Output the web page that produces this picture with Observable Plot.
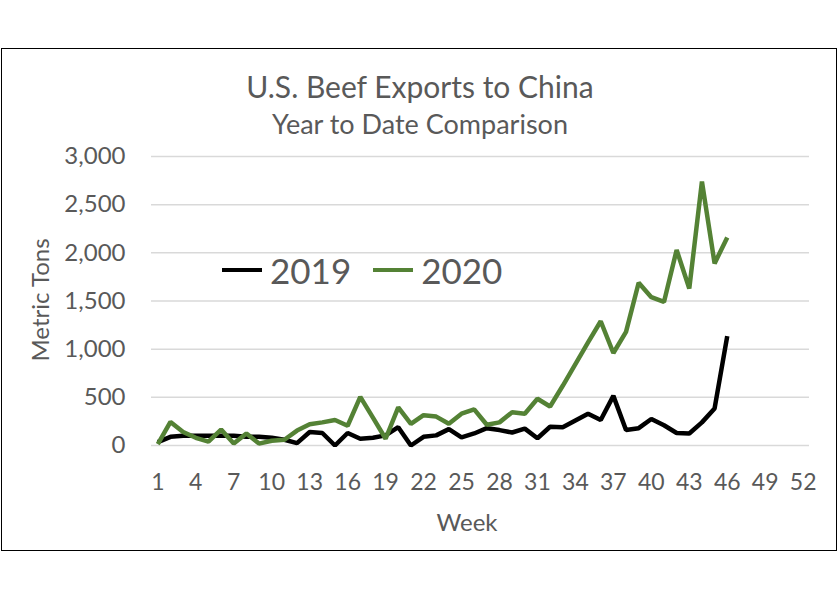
<!DOCTYPE html>
<html>
<head>
<meta charset="utf-8">
<script src="https://cdn.jsdelivr.net/npm/d3@7"></script>
<script src="https://cdn.jsdelivr.net/npm/@observablehq/plot@0.6"></script>
<style>
  html, body { margin: 0; padding: 0; background: #fff; }
  #wrap { position: relative; width: 840px; height: 600px; font-family: Lato, "Open Sans", sans-serif; color: #595959; }
  #frame { position: absolute; left: 1px; top: 48px; width: 836px; height: 503px; border: 1.5px solid #000; box-sizing: border-box; pointer-events: none; }
  .t { position: absolute; white-space: nowrap; line-height: 1; }
  #title { left: 0; width: 840px; text-align: center; top: 71px; font-size: 30px; }
  #subtitle { left: 0; width: 840px; text-align: center; top: 110px; font-size: 27px; }
  #ylab { left: 40px; top: 300px; font-size: 24px; transform: translate(-50%, -50%) rotate(-90deg); }
  #xlab { left: 467px; top: 522px; font-size: 24px; transform: translate(-50%, -50%); }
  #legend { position: absolute; left: 222px; top: 250px; display: flex; align-items: center; height: 40px; font-size: 35px; color: #595959; }
  #legend .sw { display: inline-block; width: 40px; height: 4px; margin-right: 8px; }
  #legend .item { display: flex; align-items: center; margin-right: 22px; }
  #chart { position: absolute; left: 0; top: 0; }
</style>
</head>
<body>
<div id="wrap">
  <div id="chart"></div>
  <div id="frame"></div>
  <div class="t" id="title">U.S. Beef Exports to China</div>
  <div class="t" id="subtitle">Year to Date Comparison</div>
  <div class="t" id="ylab">Metric Tons</div>
  <div class="t" id="xlab">Week</div>
  <div id="legend"></div>
</div>
<script>
// Data
const weeks = d3.range(1, 47);
const tons2019 = [35, 90, 100, 100, 100, 100, 100, 90, 90, 80, 60, 25, 140, 130, 0, 130, 70, 80, 105, 190,
  0, 90, 105, 170, 85, 125, 180, 160, 135, 175, 75, 195, 190, 260, 330, 265, 515, 160, 180, 275,
  210, 130, 125, 240, 385, 1135];
const tons2020 = [15, 245, 140, 80, 40, 165, 20, 125, 20, 50, 60, 155, 220, 240, 265, 205, 505, 290, 70, 395,
  225, 315, 300, 225, 330, 375, 215, 240, 345, 330, 485, 405, 620, 845, 1070, 1290, 960, 1180, 1690, 1540,
  1490, 2030, 1630, 2740, 1890, 2160];
const seriesNames = ["2019", "2020"];
const seriesColors = ["#000000", "#548235"];
const xTicks = [1, 4, 7, 10, 13, 16, 19, 22, 25, 28, 31, 34, 37, 40, 43, 46, 49, 52];
const yTicks = [0, 500, 1000, 1500, 2000, 2500, 3000];

const rows = [];
weeks.forEach((w, i) => {
  rows.push({week: w, tons: tons2019[i], year: seriesNames[0]});
  rows.push({week: w, tons: tons2020[i], year: seriesNames[1]});
});

const chart = Plot.plot({
  width: 840,
  height: 600,
  marginLeft: 151,
  marginRight: 31,
  marginTop: 156,
  marginBottom: 155,
  style: {fontFamily: "Lato, 'Open Sans', sans-serif", fontSize: "24px", color: "#595959", background: "transparent", overflow: "visible"},
  x: {domain: [0.5, 52.5], label: null},
  y: {domain: [0, 3000], label: null},
  color: {domain: seriesNames, range: seriesColors},
  marks: [
    Plot.gridY(yTicks, {stroke: "#d9d9d9", strokeOpacity: 1, strokeWidth: 1.5}),
    Plot.axisX(xTicks, {tickSize: 0, tickPadding: 28, tickFormat: d => String(d), fontSize: 23, fill: "#595959"}),
    Plot.axisY(yTicks, {tickSize: 0, tickPadding: 26, tickFormat: d3.format(","), fontSize: 24, fill: "#595959"}),
    Plot.line(rows, {x: "week", y: "tons", z: "year", stroke: "year", strokeWidth: 4.5, strokeLinejoin: "miter", strokeLinecap: "butt"})
  ]
});
document.getElementById("chart").appendChild(chart);

const legend = document.getElementById("legend");
seriesNames.forEach((name, i) => {
  const item = document.createElement("span");
  item.className = "item";
  const sw = document.createElement("span");
  sw.className = "sw";
  sw.style.background = seriesColors[i];
  item.appendChild(sw);
  item.appendChild(document.createTextNode(name));
  legend.appendChild(item);
});
</script>
</body>
</html>
